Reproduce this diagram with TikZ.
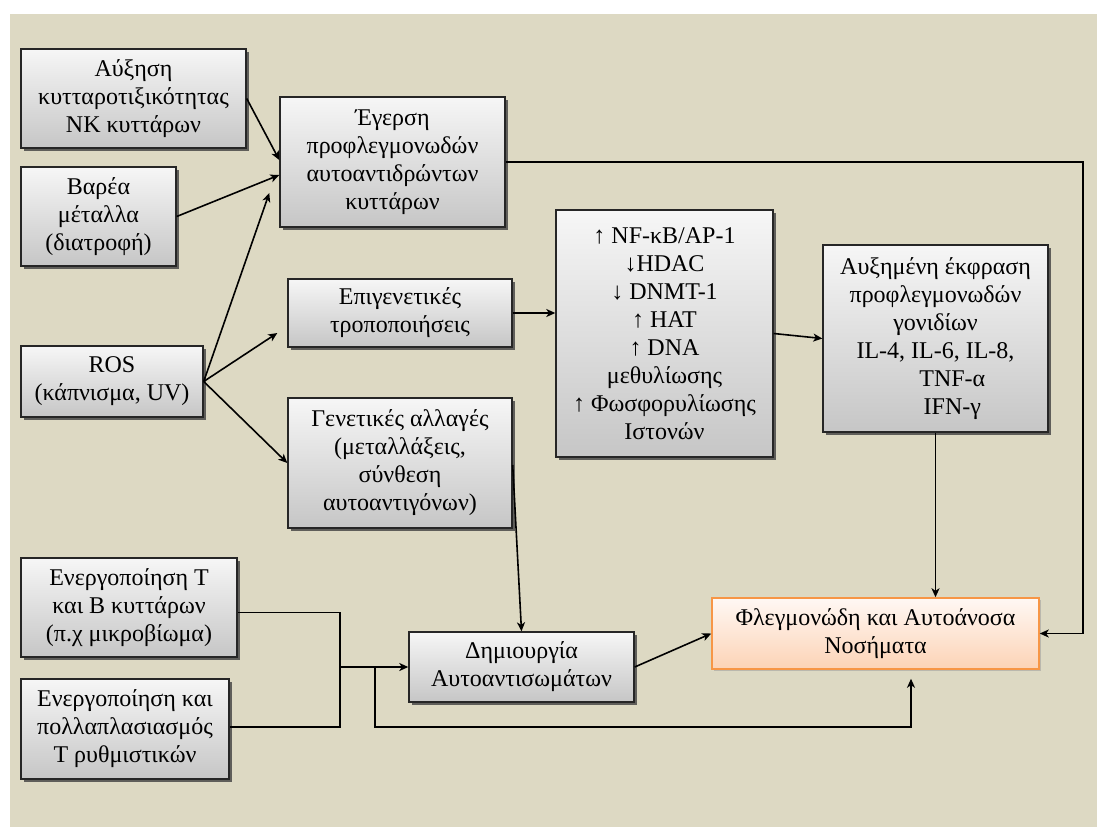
\documentclass[tikz,border=0pt]{standalone}
\usepackage{fontspec}
\setmainfont{Liberation Serif}
\usetikzlibrary{arrows.meta,shadows,calc}
\definecolor{bgc}{HTML}{DDD9C3}
\definecolor{boxtop}{HTML}{F6F6F6}
\definecolor{boxbot}{HTML}{C6C6C6}
\definecolor{pinktop}{HTML}{FFF8F4}
\definecolor{pinkbot}{HTML}{FCD3B6}
\definecolor{orangeb}{HTML}{F79646}
\newcommand{\boxfont}{\fontsize{24}{28}\selectfont}
\tikzset{
  gbox/.style={draw=black!85, line width=1.4pt, top color=boxtop, bottom color=boxbot,
    drop shadow={shadow xshift=2.5pt, shadow yshift=-2.5pt, fill=black!75, opacity=0.8},
    align=center, inner sep=2pt, font=\boxfont, text=black},
  obox/.style={draw=orangeb, line width=1.5pt, top color=pinktop, bottom color=pinkbot,
    drop shadow={shadow xshift=2pt, shadow yshift=-2pt, fill=black!40, opacity=0.5},
    align=center, inner sep=2pt, font=\boxfont, text=black},
  arr/.style={-{Stealth[length=9pt,width=8pt,inset=2.5pt]}, line width=1.6pt, black},
  ln/.style={line width=1.6pt, black}
}
\begin{document}
\begin{tikzpicture}[x=1pt,y=-1pt]
\useasboundingbox (0,0) rectangle (1097,827);
\fill[white] (0,0) rectangle (1097,827);
\fill[bgc] (10,14) rectangle (1097,827);

\node[gbox, minimum width=225pt, minimum height=99pt] (auxisi) at (133.5,98.5)
  {Αύξηση\\κυτταροτιξικότητας\\NK κυττάρων};
\node[gbox, minimum width=155pt, minimum height=99pt] (varea) at (98.5,216.5)
  {Βαρέα\\μέταλλα\\(διατροφή)};
\node[gbox, minimum width=225pt, minimum height=130pt] (egersi) at (392.5,162)
  {Έγερση\\προφλεγμονωδών\\αυτοαντιδρώντων\\κυττάρων};
\node[gbox, minimum width=224pt, minimum height=68pt] (epig) at (400,313)
  {Επιγενετικές\\τροποποιήσεις};
\node[gbox, minimum width=182pt, minimum height=71pt] (ros) at (112,381.5)
  {ROS\\(κάπνισμα, UV)};
\node[gbox, minimum width=224pt, minimum height=130pt] (genet) at (400,463)
  {Γενετικές αλλαγές\\(μεταλλάξεις,\\σύνθεση\\αυτοαντιγόνων)};
\node[gbox, minimum width=217pt, minimum height=247pt] (nf) at (664.5,333.5)
  {↑ NF-κB/AP-1\\↓HDAC\\↓ DNMT-1\\↑ HAT\\↑ DNA\\μεθυλίωσης\\↑ Φωσφορυλίωσης\\Ιστονών};
\node[gbox, minimum width=225pt, minimum height=187pt] (afx) at (935.5,338.5)
  {Αυξημένη έκφραση\\προφλεγμονωδών\\γονιδίων\\IL-4, IL-6, IL-8,\\\hspace*{1.4em}TNF-α\\\hspace*{1.4em}IFN-γ};
\node[gbox, minimum width=216pt, minimum height=99pt] (energT) at (129,607.5)
  {Ενεργοποίηση T\\και B κυττάρων\\(π.χ μικροβίωμα)};
\node[gbox, minimum width=208pt, minimum height=100pt] (energK) at (125,729)
  {Ενεργοποίηση και\\πολλαπλασιασμός\\T ρυθμιστικών};
\node[gbox, minimum width=225pt, minimum height=70pt] (dim) at (521.5,667)
  {Δημιουργία\\Αυτοαντισωμάτων};
\node[obox, minimum width=327pt, minimum height=71pt] (fleg) at (875.5,633.5)
  {Φλεγμονώδη και Αυτοάνοσα\\Νοσήματα};

% inputs to Egersi
\draw[arr] (auxisi.east) -- ([yshift=2pt]egersi.west);
\draw[arr] (varea.east) -- ([yshift=-13pt]egersi.west);
\draw[arr] (ros.east) -- ([xshift=-10pt,yshift=-31pt]egersi.west);
\draw[arr] (ros.east) -- ([xshift=-10pt,yshift=-20pt]epig.west);
\draw[arr] (ros.east) -- (genet.west);

% Egersi to Fleg via right side
\coordinate (rc) at (1083,633.5);
\draw[arr] (egersi.east) -| (rc) -- (fleg.east);

% epigenetic chain
\draw[arr] (epig.east) -- (epig.east -| nf.west);
\draw[arr] (nf.east) -- (afx.west);
\draw[arr] (afx.south) -- (afx.south |- fleg.north);

% genetic to antibodies
\draw[arr] ([yshift=-2pt]genet.east) -- (dim.north);

% T/B activation
\coordinate (j) at (340,667);
\draw[ln] ([yshift=-5pt]energT.east) -| (j);
\draw[ln] ([yshift=2pt]energK.east) -| (j);
\draw[arr] (j) -- (j -| dim.west);
\coordinate (b) at (375,667);
\coordinate (bb) at (911,727);
\draw[arr] (b) |- (bb) -- ($(bb |- fleg.south)+(0,9)$);

% antibodies to disease
\draw[arr] (dim.east) -- (fleg.west);
\end{tikzpicture}
\end{document}
